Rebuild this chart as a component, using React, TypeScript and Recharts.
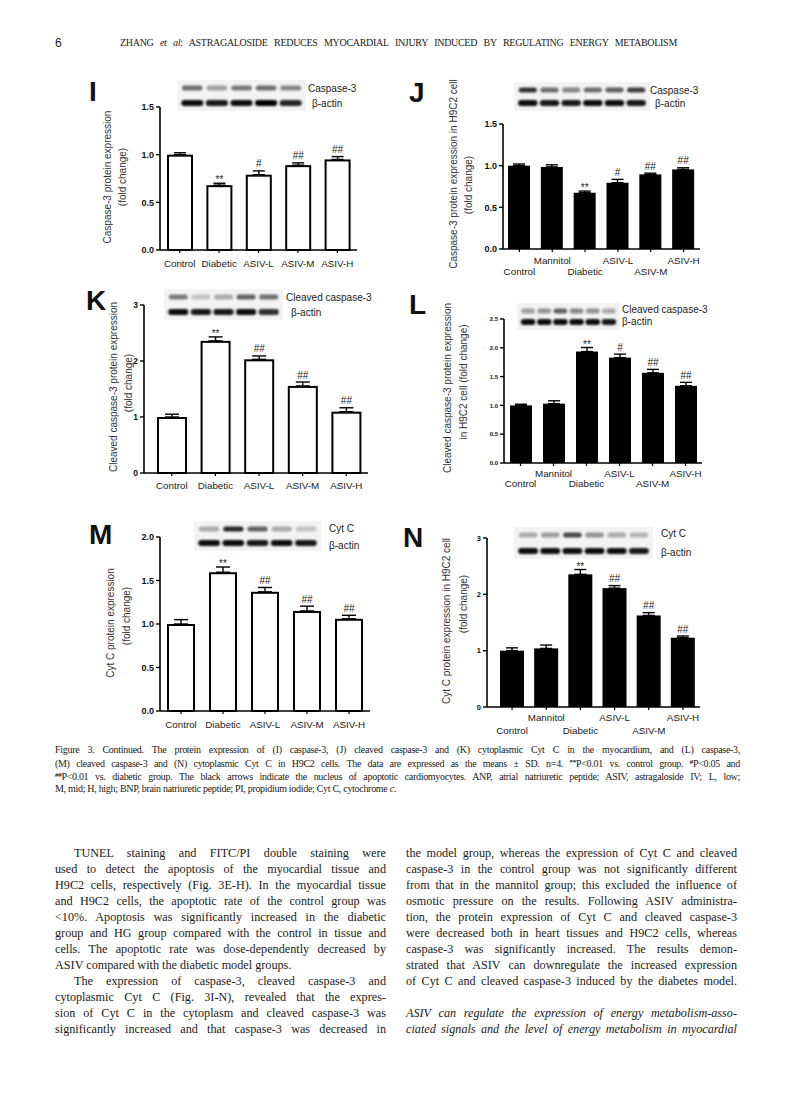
import React from 'react';
import { BarChart, Bar, XAxis, YAxis, ErrorBar } from 'recharts';

const SANS = '"Liberation Sans", Arial, Helvetica, sans-serif';
const SERIF = '"Liberation Serif", "Times New Roman", serif';

// ---------- data ----------
const tissueGroups = ['Control', 'Diabetic', 'ASIV-L', 'ASIV-M', 'ASIV-H'];
const cellGroups = ['Control', 'Mannitol', 'Diabetic', 'ASIV-L', 'ASIV-M', 'ASIV-H'];

const iMean = [1.0, 0.68, 0.79, 0.89, 0.95];
const iSD = [0.02, 0.02, 0.04, 0.024, 0.03];
const iMarks = ['', '**', '#', '##', '##'];

const jMean = [1.0, 0.985, 0.675, 0.795, 0.895, 0.955];
const jSD = [0.02, 0.025, 0.02, 0.04, 0.015, 0.02];
const jMarks = ['', '', '**', '#', '##', '##'];

const kMean = [1.0, 2.36, 2.03, 1.555, 1.095];
const kSD = [0.05, 0.07, 0.06, 0.07, 0.07];
const kMarks = ['', '**', '##', '##', '##'];

const lMean = [1.0, 1.03, 1.935, 1.83, 1.565, 1.34];
const lSD = [0.02, 0.05, 0.07, 0.06, 0.06, 0.06];
const lMarks = ['', '', '**', '#', '##', '##'];

const mMean = [1.0, 1.595, 1.37, 1.15, 1.06];
const mSD = [0.05, 0.06, 0.05, 0.055, 0.04];
const mMarks = ['', '**', '##', '##', '##'];

const nMean = [1.0, 1.04, 2.355, 2.11, 1.625, 1.23];
const nSD = [0.05, 0.06, 0.085, 0.045, 0.05, 0.03];
const nMarks = ['', '', '**', '##', '##', '##'];

const ticks15 = [0, 0.5, 1.0, 1.5];
const ticks3 = [0, 1, 2, 3];
const ticks25 = [0, 0.5, 1.0, 1.5, 2.0, 2.5];
const ticks2 = [0, 0.5, 1.0, 1.5, 2.0];

// ---------- panel layout ----------
type PanelCfg = {
  cats: string[]; values: number[]; errors: number[]; marks: string[];
  x0: number; x1: number; y0: number; y1: number; max: number; ticks: number[]; decimals: number;
  barSize: number; filled: boolean; tickFont: number; catFont: number; stagger: boolean;
  labelOff: [number, number]; padLeft: number; capW: number;
};

const panels: PanelCfg[] = [
  { cats: tissueGroups, values: iMean, errors: iSD, marks: iMarks, x0: 160, x1: 357, y0: 107, y1: 250, max: 1.5, ticks: ticks15, decimals: 1, barSize: 26, filled: false, tickFont: 9, catFont: 9.8, stagger: false, labelOff: [13, 13], padLeft: 0, capW: 6 },
  { cats: cellGroups, values: jMean, errors: jSD, marks: jMarks, x0: 503, x1: 700, y0: 124, y1: 249, max: 1.5, ticks: ticks15, decimals: 1, barSize: 22, filled: true, tickFont: 9, catFont: 9.8, stagger: true, labelOff: [11, 22], padLeft: 0, capW: 6 },
  { cats: tissueGroups, values: kMean, errors: kSD, marks: kMarks, x0: 144, x1: 368, y0: 305, y1: 473, max: 3, ticks: ticks3, decimals: 0, barSize: 30, filled: false, tickFont: 8.5, catFont: 9.8, stagger: false, labelOff: [12, 12], padLeft: 6, capW: 7 },
  { cats: cellGroups, values: lMean, errors: lSD, marks: lMarks, x0: 504, x1: 702, y0: 319, y1: 463, max: 2.5, ticks: ticks25, decimals: 1, barSize: 22, filled: true, tickFont: 6, catFont: 9.8, stagger: true, labelOff: [10, 20], padLeft: 0, capW: 6 },
  { cats: tissueGroups, values: mMean, errors: mSD, marks: mMarks, x0: 160, x1: 370, y0: 537, y1: 711, max: 2, ticks: ticks2, decimals: 1, barSize: 28, filled: false, tickFont: 9, catFont: 9.8, stagger: false, labelOff: [13, 13], padLeft: 0, capW: 7 },
  { cats: cellGroups, values: nMean, errors: nSD, marks: nMarks, x0: 487, x1: 700, y0: 538, y1: 707, max: 3, ticks: ticks3, decimals: 0, barSize: 24, filled: true, tickFont: 7.5, catFont: 9.8, stagger: true, labelOff: [10, 23], padLeft: 8, capW: 6 },
];

function Panel({ c }: { c: PanelCfg }) {
  const yW = 40, xH = 36, mT = 16, mR = 8;
  const left = c.x0 - yW;
  const top = c.y0 - mT;
  const width = c.x1 + mR - left;
  const height = c.y1 + xH - top;
  const ppu = (c.y1 - c.y0) / c.max;
  const axisY = c.y1 - top;
  const data = c.cats.map((name, i) => ({ name, value: c.values[i], err: [0, c.errors[i]], mark: c.marks[i] }));

  const shape = (p: any) => {
    const sw = c.filled ? 0 : 2;
    const x = p.x + sw / 2;
    const y = p.y + sw / 2;
    const w = Math.max(0, p.width - sw);
    const h = Math.max(0, p.height - sw / 2);
    const err = p.payload && p.payload.err ? p.payload.err[1] : 0;
    const mark = p.payload ? p.payload.mark : '';
    const capY = p.y - err * ppu;
    const isStar = mark && mark[0] === '*';
    return (
      <g>
        <rect x={x} y={y} width={w} height={h} fill={c.filled ? '#000' : '#fff'} stroke="#000" strokeWidth={sw} />
        {mark ? (
          <text x={p.x + p.width / 2} y={capY - (isStar ? 0 : 3.5)} textAnchor="middle" fontSize={10} fontFamily={SANS} fill="#222">{mark}</text>
        ) : null}
      </g>
    );
  };

  const CatTick = (p: any) => {
    const i = p.index;
    const off = c.stagger ? (i % 2 === 1 ? c.labelOff[0] : c.labelOff[1]) : c.labelOff[0];
    return (
      <text x={p.x} y={axisY + off} textAnchor="middle" dominantBaseline="central" fontSize={c.catFont} fontFamily={SANS} fill="#222">
        {p.payload.value}
      </text>
    );
  };

  return (
    <div style={{ position: 'absolute', left, top }}>
      <BarChart width={width} height={height} data={data} margin={{ top: mT, right: mR, bottom: 0, left: 0 }}>
        <XAxis
          dataKey="name"
          height={xH}
          interval={0}
          tick={<CatTick />}
          tickSize={3}
          tickLine={{ stroke: '#000', strokeWidth: 1.2 }}
          axisLine={{ stroke: '#000', strokeWidth: 1.6 }}
          padding={{ left: c.padLeft, right: 0 }}
        />
        <YAxis
          width={yW}
          domain={[0, c.max]}
          ticks={c.ticks}
          interval={0}
          tickFormatter={(v: number) => v.toFixed(c.decimals)}
          tick={{ fontSize: c.tickFont, fontWeight: 700, fill: '#111', fontFamily: SANS }}
          tickSize={4}
          tickMargin={2}
          tickLine={{ stroke: '#000', strokeWidth: 1.4 }}
          axisLine={{ stroke: '#000', strokeWidth: 1.6 }}
        />
        <Bar dataKey="value" barSize={c.barSize} shape={shape} isAnimationActive={false}>
          <ErrorBar dataKey="err" width={c.capW} stroke="#000" strokeWidth={1.4} direction="y" isAnimationActive={false} />
        </Bar>
      </BarChart>
    </div>
  );
}

// ---------- decorations: blots, letters, axis titles ----------
type BlotCfg = { x: number; w: number; r1: number; r2: number; top: number[]; bot: number[]; l1: string; l1x: number; l1y: number; l2x: number; l2y: number };
const blots: BlotCfg[] = [
  { x: 180, w: 123, r1: 88, r2: 103, top: [0.55, 0.35, 0.5, 0.55, 0.45], bot: [0.95, 0.9, 0.95, 1, 0.85], l1: 'Caspase-3', l1x: 308, l1y: 88, l2x: 312, l2y: 103 },
  { x: 517, w: 130, r1: 90, r2: 103, top: [0.8, 0.55, 0.45, 0.55, 0.6, 0.75], bot: [0.95, 0.9, 0.9, 0.95, 0.95, 0.9], l1: 'Caspase-3', l1x: 650, l1y: 90, l2x: 655, l2y: 103 },
  { x: 167, w: 113, r1: 297, r2: 312, top: [0.5, 0.2, 0.3, 0.6, 0.55], bot: [0.95, 0.9, 0.9, 0.95, 0.8], l1: 'Cleaved caspase-3', l1x: 286, l1y: 297, l2x: 291, l2y: 312 },
  { x: 520, w: 97, r1: 311, r2: 322, top: [0.35, 0.4, 0.6, 0.45, 0.4, 0.3], bot: [0.95, 0.95, 0.95, 0.95, 0.95, 0.9], l1: 'Cleaved caspase-3', l1x: 622, l1y: 309, l2x: 622, l2y: 321 },
  { x: 197, w: 121, r1: 529, r2: 543, top: [0.3, 0.85, 0.6, 0.3, 0.2], bot: [0.95, 0.95, 0.9, 0.95, 0.9], l1: 'Cyt C', l1x: 329, l1y: 528, l2x: 329, l2y: 545 },
  { x: 517, w: 133, r1: 535, r2: 551, top: [0.3, 0.35, 0.7, 0.4, 0.3, 0.25], bot: [0.95, 0.95, 0.95, 0.95, 0.95, 0.9], l1: 'Cyt C', l1x: 661, l1y: 533, l2x: 661, l2y: 552 },
];

const letters: [string, number, number][] = [
  ['I', 89, 101], ['J', 409, 102], ['K', 86, 310], ['L', 409, 314], ['M', 89, 544], ['N', 403, 547],
];

const yTitles: [number, number, string][] = [
  [107, 177, 'Caspase-3 protein expression'], [122, 177, '(fold change)'],
  [453, 174, 'Caspase-3 protein expression in H9C2 cell'], [468, 185, '(fold change)'],
  [113, 387, 'Cleaved caspase-3 protein expression'], [128, 383, '(fold change)'],
  [447, 388, 'Cleaved caspase-3 protein expression'], [463, 382, 'in H9C2 cell (fold change)'],
  [110, 623, 'Cyt C protein expression'], [126, 616, '(fold change)'],
  [446, 621, 'Cyt C protein expression in H9C2 cell'], [463, 604, '(fold change)'],
];

function Overlay() {
  return (
    <svg width={794} height={1096} style={{ position: 'absolute', left: 0, top: 0 }}>
      <defs>
        <filter id="bl" x="-20%" y="-50%" width="140%" height="200%">
          <feGaussianBlur stdDeviation="0.9" />
        </filter>
      </defs>
      {blots.map((b, k) => {
        const n = b.top.length;
        const lw = b.w / n;
        return (
          <g key={'b' + k}>
            <rect x={b.x - 3} y={b.r1 - 8} width={b.w + 6} height={b.r2 - b.r1 + 16} fill="#f3f3f3" />
            {b.top.map((a, i) => (
              <rect key={'t' + i} x={b.x + i * lw + lw * 0.08} y={b.r1 - 2.5} width={lw * 0.84} height={5} rx={2.5} fill="#000" opacity={a} filter="url(#bl)" />
            ))}
            {b.bot.map((a, i) => (
              <rect key={'u' + i} x={b.x + i * lw + lw * 0.05} y={b.r2 - 3} width={lw * 0.9} height={6} rx={3} fill="#000" opacity={a} filter="url(#bl)" />
            ))}
            <text x={b.l1x} y={b.l1y} dominantBaseline="central" fontSize={10} fontFamily={SANS} fill="#222">{b.l1}</text>
            <text x={b.l2x} y={b.l2y} dominantBaseline="central" fontSize={10} fontFamily={SANS} fill="#222">β-actin</text>
          </g>
        );
      })}
      {letters.map(([t, x, y]) => (
        <text key={t} x={x} y={y} fontSize={28} fontWeight={700} fontFamily={SANS} fill="#111">{t}</text>
      ))}
      {yTitles.map(([x, y, t], i) => (
        <text key={'y' + i} x={x} y={y} transform={`rotate(-90 ${x} ${y})`} textAnchor="middle" dominantBaseline="central" fontSize={10} fontFamily={SANS} fill="#333">{t}</text>
      ))}
    </svg>
  );
}

// ---------- text ----------
const leftCol: [string, boolean, boolean][] = [
  ['TUNEL staining and FITC/PI double staining were', true, false],
  ['used to detect the apoptosis of the myocardial tissue and', false, false],
  ['H9C2 cells, respectively (Fig. 3E-H). In the myocardial tissue', false, false],
  ['and H9C2 cells, the apoptotic rate of the control group was', false, false],
  ['<10%. Apoptosis was significantly increased in the diabetic', false, false],
  ['group and HG group compared with the control in tissue and', false, false],
  ['cells. The apoptotic rate was dose-dependently decreased by', false, false],
  ['ASIV compared with the diabetic model groups.', false, true],
  ['The expression of caspase-3, cleaved caspase-3 and', true, false],
  ['cytoplasmic Cyt C (Fig. 3I-N), revealed that the expres-', false, false],
  ['sion of Cyt C in the cytoplasm and cleaved caspase-3 was', false, false],
  ['significantly increased and that caspase-3 was decreased in', false, false],
];
const rightCol: string[] = [
  'the model group, whereas the expression of Cyt C and cleaved',
  'caspase-3 in the control group was not significantly different',
  'from that in the mannitol group; this excluded the influence of',
  'osmotic pressure on the results. Following ASIV administra-',
  'tion, the protein expression of Cyt C and cleaved caspase-3',
  'were decreased both in heart tissues and H9C2 cells, whereas',
  'caspase-3 was significantly increased. The results demon-',
  'strated that ASIV can downregulate the increased expression',
  'of Cyt C and cleaved caspase-3 induced by the diabetes model.',
];
const rightItalic: string[] = [
  'ASIV can regulate the expression of energy metabolism-asso-',
  'ciated signals and the level of energy metabolism in myocardial',
];

function TLine({ x, y, w, children, last, indent, italic, size, lh, ls }: any) {
  const ind = indent || 0;
  return (
    <div
      style={{
        position: 'absolute', left: x + ind, top: y - lh / 2, width: w - ind, height: lh, lineHeight: lh + 'px',
        fontFamily: SERIF, fontSize: size, whiteSpace: 'nowrap', textAlign: last ? 'left' : 'justify',
        textAlignLast: last ? 'left' : 'justify', fontStyle: italic ? 'italic' : 'normal', color: '#1a1a1a',
        letterSpacing: ls || 0,
      } as React.CSSProperties}
    >
      {children}
    </div>
  );
}

const sup: React.CSSProperties = { fontSize: '0.7em', verticalAlign: '0.4em', fontWeight: 700 };
const CAP = 10;
const CAPLS = -0.3;
const BODY = 12.2;

export default function App() {
  return (
    <div style={{ position: 'absolute', left: 0, top: 0, width: 794, height: 1096, background: '#fff', overflow: 'hidden' }}>
      <div style={{ position: 'absolute', left: 55, top: 36, fontFamily: SANS, fontSize: 12, lineHeight: '14px', color: '#222' }}>6</div>
      <TLine x={120} y={43} w={557} size={10} lh={14} ls={-0.3}>
        ZHANG <i>et al</i>: ASTRAGALOSIDE REDUCES MYOCARDIAL INJURY INDUCED BY REGULATING ENERGY METABOLISM
      </TLine>

      <Overlay />
      {panels.map((c, i) => <Panel key={i} c={c} />)}

      <TLine x={55} y={749} w={685} size={CAP} lh={13} ls={CAPLS}>
        Figure 3. Continued. The protein expression of (I) caspase-3, (J) cleaved caspase-3 and (K) cytoplasmic Cyt C in the myocardium, and (L) caspase-3,
      </TLine>
      <TLine x={55} y={762} w={685} size={CAP} lh={13} ls={CAPLS}>
        (M) cleaved caspase-3 and (N) cytoplasmic Cyt C in H9C2 cells. The data are expressed as the means ± SD. n=4. <span style={sup}>**</span>P&lt;0.01 vs. control group. <span style={sup}>#</span>P&lt;0.05 and
      </TLine>
      <TLine x={55} y={775} w={685} size={CAP} lh={13} ls={CAPLS}>
        <span style={sup}>##</span>P&lt;0.01 vs. diabetic group. The black arrows indicate the nucleus of apoptotic cardiomyocytes. ANP, atrial natriuretic peptide; ASIV, astragaloside IV; L, low;
      </TLine>
      <TLine x={55} y={788} w={685} size={CAP} lh={13} ls={CAPLS} last>
        M, mid; H, high; BNP, brain natriuretic peptide; PI, propidium iodide; Cyt C, cytochrome <i>c</i>.
      </TLine>

      {leftCol.map(([t, ind, last], i) => (
        <TLine key={'l' + i} x={55} y={853 + i * 16} w={331} size={BODY} lh={16} indent={ind ? 19 : 0} last={last}>{t}</TLine>
      ))}
      {rightCol.map((t, i) => (
        <TLine key={'r' + i} x={406} y={853 + i * 16} w={331} size={BODY} lh={16}>{t}</TLine>
      ))}
      {rightItalic.map((t, i) => (
        <TLine key={'ri' + i} x={406} y={1013 + i * 16} w={331} size={BODY} lh={16} italic>{t}</TLine>
      ))}
    </div>
  );
}
